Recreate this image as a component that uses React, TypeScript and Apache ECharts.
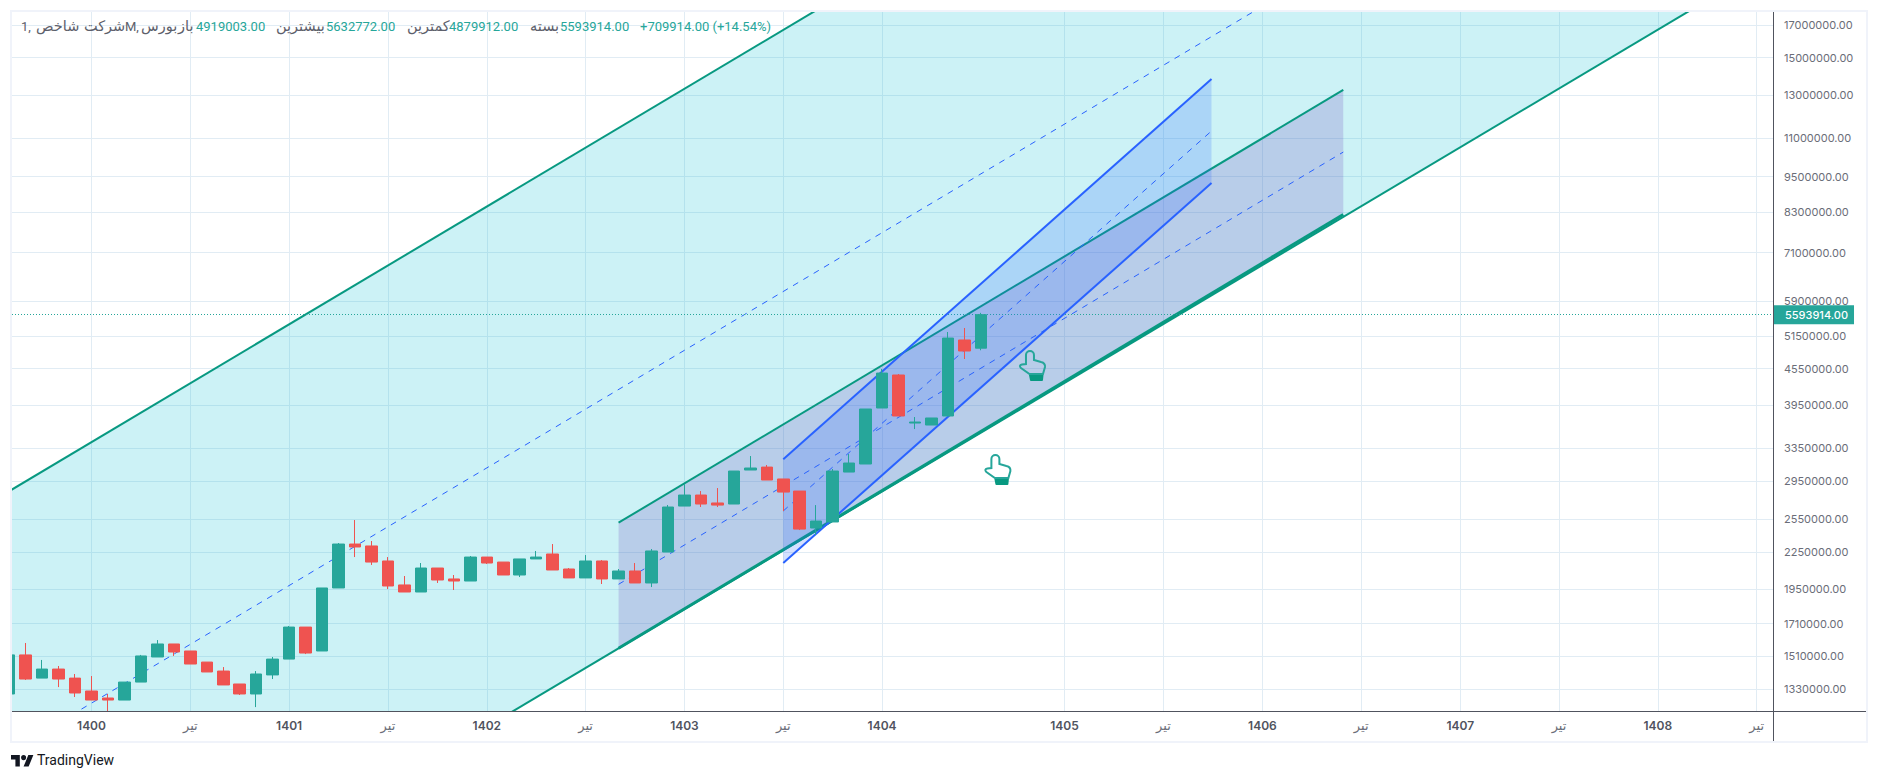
import React, { useEffect, useRef } from "react";
import * as echarts from "echarts";

// Candles: month index counted from the first month of 1400
const monthIndex = [-5,-4,-3,-2,-1,0,1,2,3,4,5,6,7,8,9,10,11,12,13,14,15,16,17,18,19,20,21,22,23,24,25,26,27,28,29,30,31,32,33,34,35,36,37,38,39,40,41,42,43,44,45,46,47,48,49,50,51,52,53,54];
const opens = [1305000,1516000,1387000,1436000,1387000,1320000,1285000,1275000,1366000,1504000,1581000,1539000,1475000,1425000,1356000,1305000,1404000,1492000,1687000,1539000,1960000,2320000,2303000,2174000,1983000,1930000,2116000,2029000,2013000,2207000,2165000,2060000,2191000,2233000,2108000,2037000,2174000,2029000,2092000,1998000,2250000,2684000,2800000,2716000,2705000,3082000,3117000,2978000,2843000,2467000,2525000,3058000,3154000,3910000,4438000,3691000,3663000,3792000,5076000,4919003];
const closes = [1516000,1382000,1436000,1382000,1310000,1275000,1275000,1366000,1510000,1581000,1533000,1464000,1420000,1351000,1305000,1409000,1492000,1687000,1527000,1960000,2320000,2294000,2165000,1975000,1930000,2116000,2021000,2013000,2207000,2157000,2060000,2191000,2207000,2100000,2037000,2174000,2029000,2092000,1998000,2259000,2674000,2800000,2705000,2694000,3070000,3106000,2966000,2832000,2457000,2534000,3070000,3166000,3895000,4471000,3792000,3705000,3763000,5114000,4866000,5593914];
const lows = [1305000,1377000,1387000,1340000,1290000,1275000,1219000,1275000,1366000,1504000,1510000,1464000,1420000,1351000,1300000,1241000,1382000,1492000,1521000,1539000,1960000,2207000,2141000,1952000,1930000,1930000,1998000,1945000,2013000,2149000,2060000,2044000,2191000,2100000,2037000,2037000,1990000,2029000,1998000,1967000,2250000,2684000,2674000,2674000,2705000,3082000,2966000,2633000,2448000,2402000,2525000,3058000,3154000,3910000,3792000,3607000,3663000,3792000,4719000,4879912];
const highs = [1516000,1587000,1487000,1453000,1409000,1398000,1305000,1366000,1516000,1605000,1581000,1539000,1475000,1447000,1356000,1425000,1504000,1694000,1687000,1960000,2329000,2544000,2347000,2207000,2052000,2157000,2116000,2060000,2216000,2207000,2165000,2191000,2259000,2320000,2116000,2224000,2182000,2108000,2157000,2276000,2695000,2921000,2843000,2876000,3070000,3252000,3142000,2978000,2843000,2694000,3094000,3277000,3895000,4541000,4455000,3777000,3763000,5234000,5315000,5632772];

// Axes
const priceTicks = [17000000,15000000,13000000,11000000,9500000,8300000,7100000,5900000,5150000,4550000,3950000,3350000,2950000,2550000,2250000,1950000,1710000,1510000,1330000];
const timeTicks = [0,6,12,18,24,30,36,42,48,59.07,65.08,71.09,77.09,83.1,89.1,95.1,101.1];
const timeLabels = ["1400","تیر","1401","تیر","1402","تیر","1403","تیر","1404","1405","تیر","1406","تیر","1407","تیر","1408","تیر"];
const xMin = -4.827;
const xMax = 102.09;
const yMin = 1222500;
const yMax = 17870000;
const lastPrice = 5593914;

// Wide channel (extends past the view)
const wideX = [-10, 110];
const wideUpper = [2354000, 216000000];
const wideMiddle = [865000, 78900000];
const wideLower = [320200, 29250000];
// Purple channel
const purpleX = [32, 76];
const purpleUpper = [2518000, 13250000];
const purpleMiddle = [1988000, 10440000];
const purpleLower = [1555000, 8216000];
// Blue channel
const blueX = [42, 68];
const blueUpper = [3211000, 13820000];
const blueMiddle = [2634000, 11320000];
const blueLower = [2158000, 9272000];
// Hand markers
const handMarks = [[55, 3082000], [57.1, 4594000]];

// Header
const headerTexts = ["1,", "شرکت شاخص", "M,", "بورس", "باز", "4919003.00", "بیشترین", "5632772.00", "کمترین", "4879912.00", "بسته", "5593914.00", "+709914.00 (+14.54%)"];
const headerIsValue = [false,false,false,false,false,true,false,true,false,true,false,true,true];
const headerLefts = [21,36,125,141,178,196,276,326,407,449,530,560,640];

const TEAL = "#089981";
const BLUE = "#2962ff";
const handOutline = "M7 14 V5 a4 4 0 0 1 8 0 V10 L22 12 Q26.5 13 26 17 L24 24 H10.5 L2 18 Q-0.5 15.5 3 14.5 Z";
const handBand = "M10 25 H24.5 L24 30 Q24 31 23 31 H12 Q11 31 11 30 Z";
const tvLogo = "M14 22H7V11H0V4h14v18zM28 22h-8l7.5-18h8L28 22zM16 8a4 4 0 1 0 8 0a4 4 0 1 0-8 0z";

echarts.graphic.registerShape("tvlogo", echarts.graphic.extendPath(tvLogo, {}) as any);

function channelSeries(
  name: string,
  xs: number[],
  upper: number[],
  middle: number[],
  lower: number[],
  fill: string,
  edge: string,
  z: number,
  lowerWidth: number
) {
  return {
    type: "custom",
    name,
    z,
    clip: true,
    silent: true,
    encode: { x: 0, y: 1 },
    data: [[xs[0], lower[0]]],
    renderItem: (_p: any, api: any) => {
      const u0 = api.coord([xs[0], upper[0]]);
      const u1 = api.coord([xs[1], upper[1]]);
      const m0 = api.coord([xs[0], middle[0]]);
      const m1 = api.coord([xs[1], middle[1]]);
      const l0 = api.coord([xs[0], lower[0]]);
      const l1 = api.coord([xs[1], lower[1]]);
      const seg = (a: number[], b: number[], w: number, dash?: number[]) => ({
        type: "line",
        shape: { x1: a[0], y1: a[1], x2: b[0], y2: b[1] },
        style: { stroke: dash ? BLUE : edge, lineWidth: w, lineDash: dash, fill: null },
      });
      return {
        type: "group",
        children: [
          { type: "polygon", shape: { points: [u0, u1, l1, l0] }, style: { fill } },
          seg(m0, m1, 1, [6, 6]),
          seg(u0, u1, 2),
          seg(l0, l1, lowerWidth),
        ],
      };
    },
  };
}

export default function App() {
  const ref = useRef<HTMLDivElement>(null);
  useEffect(() => {
    document.body.style.margin = "0";
    const chart = echarts.init(ref.current!, null, { renderer: "svg" });
    const candles = monthIndex.map((x, i) => [x, opens[i], closes[i], lows[i], highs[i]]);
    const grey = "#50535e";
    const header = headerTexts.map((t, i) => ({
      type: "text",
      z: 50,
      style: {
        text: t,
        x: headerLefts[i],
        y: 26,
        verticalAlign: "middle",
        fill: headerIsValue[i] ? "#26a69a" : "#5d606b",
        font: /[\u0600-\u06ff]/.test(t) ? "14.5px 'DejaVu Sans', sans-serif" : "13px Roboto, sans-serif",
      },
    }));
    const rule = (x1: number, y1: number, x2: number, y2: number) => ({
      type: "line",
      z: 40,
      shape: { x1, y1, x2, y2 },
      style: { stroke: grey, lineWidth: 1 },
    });
    chart.setOption({
      animation: false,
      backgroundColor: "#ffffff",
      grid: { left: 12, top: 12, width: 1761, height: 699, containLabel: false },
      xAxis: {
        type: "value",
        min: xMin,
        max: xMax,
        axisLine: { show: false },
        axisTick: { show: false, customValues: timeTicks },
        splitLine: { show: true, lineStyle: { color: "#e1ecf4", width: 1 } },
        axisLabel: {
          customValues: timeTicks,
          margin: 8,
          hideOverlap: false,
          formatter: (v: number) => {
            const k = timeTicks.indexOf(v);
            const s = k >= 0 ? timeLabels[k] : "";
            return /^\d/.test(s) ? `{y|${s}}` : `{m|${s}}`;
          },
          rich: {
            y: { fontFamily: "Inter, Roboto", fontSize: 12, fontWeight: 600, color: "#50535e" },
            m: { fontFamily: "'DejaVu Sans'", fontSize: 13, color: "#6a6d78" },
          },
        },
      },
      yAxis: {
        type: "log",
        logBase: 10,
        position: "right",
        min: yMin,
        max: yMax,
        axisLine: { show: false },
        axisTick: { show: false, customValues: priceTicks },
        minorTick: { show: false },
        minorSplitLine: { show: false },
        splitLine: { show: true, lineStyle: { color: "#e1ecf4", width: 1 } },
        axisLabel: {
          customValues: priceTicks,
          margin: 11,
          hideOverlap: false,
          fontFamily: "Inter, Roboto",
          fontSize: 11,
          color: "#6a6d78",
          align: "left",
          formatter: (v: number) => v.toFixed(2),
        },
      },
      series: [
        channelSeries("wide", wideX, wideUpper, wideMiddle, wideLower, "rgba(0,188,212,0.2)", TEAL, 3, 2),
        channelSeries("purple", purpleX, purpleUpper, purpleMiddle, purpleLower, "rgba(103,58,183,0.2)", TEAL, 4, 3),
        channelSeries("blue", blueX, blueUpper, blueMiddle, blueLower, "rgba(41,98,255,0.2)", BLUE, 5, 2),
        {
          type: "custom",
          name: "hands",
          z: 6,
          silent: true,
          encode: { x: 0, y: 1 },
          data: handMarks,
          renderItem: (_p: any, api: any) => {
            const c = api.coord([api.value(0), api.value(1)]);
            return {
              type: "group",
              x: c[0] - 13,
              y: c[1] - 16,
              children: [
                { type: "path", shape: { pathData: handOutline }, style: { fill: "none", stroke: "#26a69a", lineWidth: 2 } },
                { type: "path", shape: { pathData: handBand }, style: { fill: TEAL } },
              ],
            };
          },
        },
        {
          type: "candlestick",
          name: "candles",
          z: 10,
          clip: true,
          barWidth: 12,
          silent: true,
          itemStyle: {
            color: "#26a69a",
            color0: "#ef5350",
            borderColor: "#26a69a",
            borderColor0: "#ef5350",
            borderWidth: 1,
          },
          data: candles,
          markLine: {
            symbol: "none",
            silent: true,
            animation: false,
            lineStyle: { type: [1, 2], color: "#26a69a", width: 1 },
            label: {
              show: true,
              position: "end",
              distance: 0,
              formatter: () => lastPrice.toFixed(2),
              backgroundColor: "#26a69a",
              color: "#ffffff",
              fontFamily: "Inter, Roboto",
              fontSize: 11,
              fontWeight: 500,
              padding: [4, 6, 4, 12],
            },
            data: [{ yAxis: lastPrice }],
          },
        },
      ],
      graphic: [
        { type: "rect", z: 38, shape: { x: 0, y: 0, width: 11, height: 781 }, style: { fill: "#ffffff" } },
        { type: "rect", z: 39, shape: { x: 11, y: 11, width: 1856, height: 731 }, style: { fill: "none", stroke: "#f0f3fa", lineWidth: 2 } },
        rule(1773.5, 12, 1773.5, 741),
        rule(12, 711.5, 1866, 711.5),
        ...header,
        { type: "tvlogo", z: 50, x: 11, y: 752.5, scaleX: 0.63, scaleY: 0.64, style: { fill: "#131722" } },
        {
          type: "text",
          z: 50,
          style: { text: "TradingView", x: 37, y: 760, verticalAlign: "middle", fill: "#131722", font: "14px Roboto, sans-serif" },
        },
      ],
    });
    return () => chart.dispose();
  }, []);
  return <div ref={ref} style={{ width: 1878, height: 781 }} />;
}
